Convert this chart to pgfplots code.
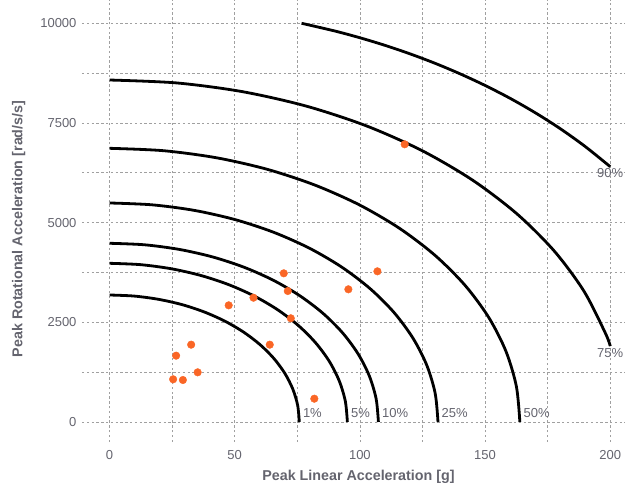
\documentclass[border=0pt]{standalone}
\usepackage{fontspec}
\setmainfont{Liberation Sans}
\usepackage{pgfplots}
\pgfplotsset{compat=1.18}
\definecolor{dotc}{RGB}{250,102,38}
\definecolor{txtc}{RGB}{100,100,110}
\definecolor{gridc}{RGB}{160,160,160}
\begin{document}
\begin{tikzpicture}[x=1pt,y=1pt]
\begin{axis}[
  scale only axis,
  width=543pt, height=442pt,
  xmin=-11, xmax=205.9,
  ymin=-502, ymax=10584,
  xtick={0,50,100,150,200},
  ytick={0,2500,5000,7500,10000},
  minor xtick={25,75,125,175},
  minor ytick={1250,3750,6250,8750},
  scaled x ticks=false, scaled y ticks=false,
  grid=both,
  major grid style={draw=gridc, line width=0.7pt, dash pattern=on 2.4pt off 2.4pt},
  minor grid style={draw=gridc, line width=0.7pt, dash pattern=on 2.4pt off 2.4pt},
  axis line style={draw=none},
  major tick length=0pt, minor tick length=0pt,
  tick label style={font=\fontsize{13}{15}\selectfont, text=txtc},
  /pgf/number format/assume math mode=true,
  /pgf/number format/1000 sep={},
  xticklabel style={yshift=-5pt},
  yticklabel style={xshift=-2pt},
  xlabel={\textbf{Peak Linear Acceleration [g]}},
  ylabel={\textbf{Peak Rotational Acceleration [rad/s/s]}},
  label style={font=\fontsize{14.3}{16}\selectfont, text=txtc},
  xlabel style={yshift=-4pt, xshift=5pt},
  ylabel style={yshift=8pt, xshift=-8pt},
  clip=false,
]
% 1%
\addplot[black, line width=2.8pt, smooth] coordinates {
(0,3185) (9.89,3158) (19.62,3076) (29.01,2943) (37.90,2758) (46.14,2527) (53.60,2252) (60.14,1939) (65.65,1593) (70.03,1219) (73.22,824) (75.15,416) (75.8,0)};
% 5%
\addplot[black, line width=2.8pt, smooth] coordinates {
(0,3980) (12.40,3946) (24.59,3844) (36.35,3677) (47.50,3447) (57.83,3158) (67.18,2814) (75.37,2423) (82.27,1990) (87.77,1523) (91.76,1030) (94.19,520) (95.0,0)};
% 10%
\addplot[black, line width=2.8pt, smooth] coordinates {
(0,4482) (14.02,4444) (27.80,4329) (41.10,4141) (53.70,3882) (65.38,3556) (75.94,3169) (85.21,2728) (93.01,2241) (99.22,1715) (103.74,1160) (106.48,585) (107.4,0)};
% 25%
\addplot[black, line width=2.8pt, smooth] coordinates {
(0,5493) (17.13,5446) (33.96,5306) (50.21,5075) (65.60,4757) (79.87,4358) (92.77,3884) (104.09,3344) (113.62,2747) (121.21,2102) (126.73,1422) (130.08,717) (131.2,0)};
% 50%
\addplot[black, line width=2.8pt, smooth] coordinates {
(0,6864) (21.39,6805) (42.42,6630) (62.72,6342) (81.95,5944) (99.78,5446) (115.90,4854) (130.03,4179) (141.94,3432) (151.42,2627) (158.32,1777) (162.50,896) (163.9,0)};
% 75%
\addplot[black, line width=2.8pt, smooth] coordinates {
(0,8577) (26.77,8504) (53.08,8285) (78.49,7924) (102.55,7428) (124.86,6805) (145.03,6065) (162.72,5221) (177.62,4289) (189.49,3282) (198.12,2220) (200,1902)};
% 90%
\addplot[black, line width=2.8pt, smooth] coordinates {
(76.7,10000) (90,9806) (100,9637) (110,9447) (120,9234) (130,8997) (140,8733) (150,8441) (160,8118) (170,7758) (180,7358) (190,6909) (200,6403)};
% observations
\addplot[only marks, mark=*, mark size=3.8pt, color=dotc, mark options={draw=dotc, fill=dotc}] coordinates {
(69.6,3729) (71.2,3285) (72.4,2601) (57.5,3117) (47.6,2926) (64.0,1939)
(32.6,1939) (26.6,1663) (35.2,1246) (25.4,1071) (29.3,1053) (81.8,584)
(107.0,3779) (95.4,3328) (117.9,6965)};
\begin{scope}[every node/.style={font=\fontsize{13}{15}\selectfont, text=txtc}]
\node[anchor=west, inner sep=1pt] at (axis cs:76.8,230) {1\%};
\node[anchor=west, inner sep=1pt] at (axis cs:96.0,230) {5\%};
\node[anchor=west, inner sep=1pt] at (axis cs:108.4,230) {10\%};
\node[anchor=west, inner sep=1pt] at (axis cs:132.2,230) {25\%};
\node[anchor=west, inner sep=1pt] at (axis cs:164.9,230) {50\%};
\node[anchor=north, inner sep=2pt] at (axis cs:200,1902) {75\%};
\node[anchor=north, inner sep=2pt] at (axis cs:200,6403) {90\%};
\end{scope}
\end{axis}
\pgfresetboundingbox
\path[use as bounding box] ([shift={(-82pt,-48pt)}]current axis.south west) rectangle (current axis.north east);
\end{tikzpicture}
\end{document}
